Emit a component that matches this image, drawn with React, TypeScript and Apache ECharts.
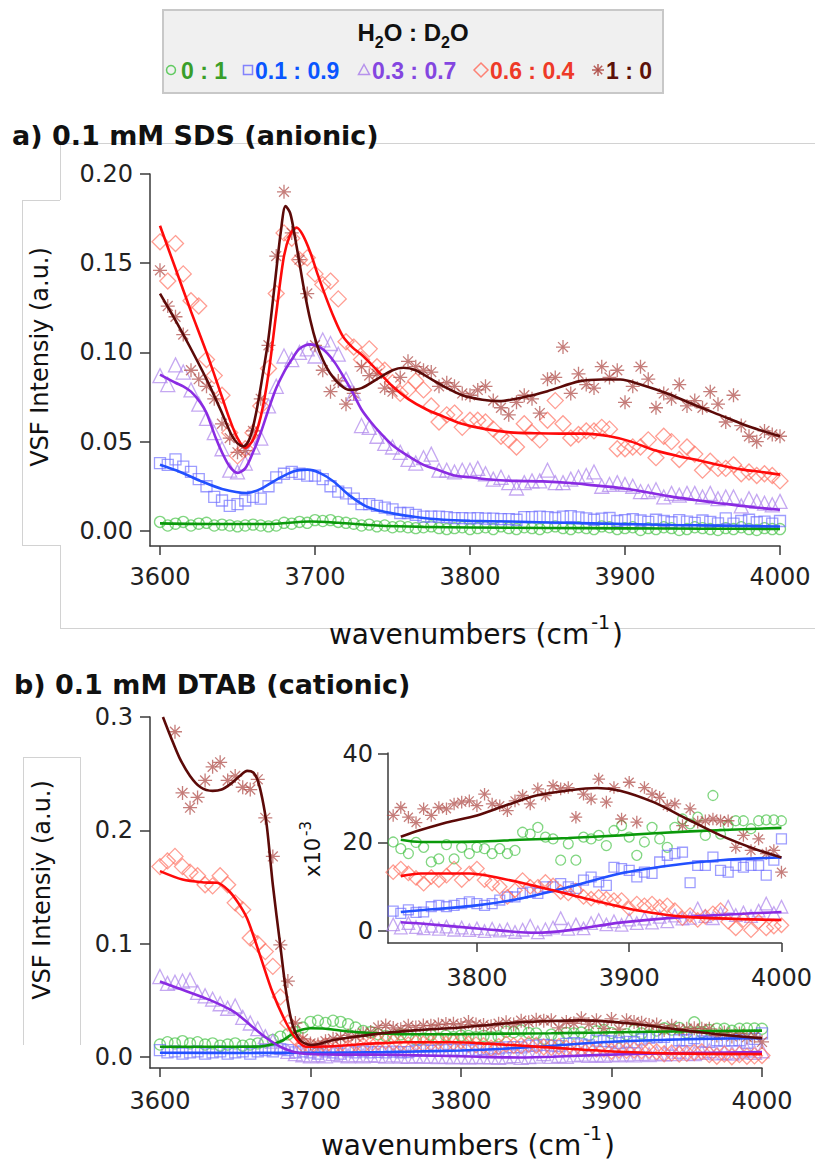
import React, { useEffect, useRef } from "react";
import * as echarts from "echarts";

// wavenumber grid of the measured points (cm^-1)
const X5 = [
  3600, 3605, 3610, 3615, 3620, 3625, 3630, 3635, 3640, 3645,
  3650, 3655, 3660, 3665, 3670, 3675, 3680, 3685, 3690, 3695,
  3700, 3705, 3710, 3715, 3720, 3725, 3730, 3735, 3740, 3745,
  3750, 3755, 3760, 3765, 3770, 3775, 3780, 3785, 3790, 3795,
  3800, 3805, 3810, 3815, 3820, 3825, 3830, 3835, 3840, 3845,
  3850, 3855, 3860, 3865, 3870, 3875, 3880, 3885, 3890, 3895,
  3900, 3905, 3910, 3915, 3920, 3925, 3930, 3935, 3940, 3945,
  3950, 3955, 3960, 3965, 3970, 3975, 3980, 3985, 3990, 3995,
  4000,
];

// ---- a) 0.1 mM SDS : measured points ----
const topGreen = [
  .005, .003, .004, .005, .003, .004, .0045, .003, .0035, .003,
  .0025, .003, .0035, .003, .0025, .003, .0045, .004, .005, .0045,
  .006, .0055, .006, .005, .0045, .004, .003, .0035, .0025, .003,
  .002, .0025, .002, .0015, .002, .0025, .0015, .001, .0015, .002,
  .001, .0015, .002, .001, .0025, .0015, .001, .002, .0015, .001,
  .002, .0025, .0015, .001, .002, .0015, .001, .0025, .002, .001,
  .0015, .002, .0005, .0015, .001, .002, .0015, .0005, .001, .002,
  .0015, .001, .0005, .0015, .001, .002, .001, .0005, .0015, .001,
  .001,
];
const topBlue = [
  .038, .037, .040, .036, .033, .029, .025, .019, .017, .014,
  .015, .017, .019, .018, .025, .030, .032, .033, .032, .031,
  .031, .029, .025, .022, .021, .018, .015, .015, .014, .013,
  .012, .010, .010, .009, .008, .008, .008, .0077, .0071, .0071,
  .007, .0071, .0068, .0068, .0066, .0066, .0062, .0077, .0077, .008,
  .0077, .0072, .008, .0083, .0075, .007, .0062, .0068, .0072, .0055,
  .006, .0066, .0058, .005, .0062, .0055, .0048, .006, .0052, .0045,
  .0058, .005, .0042, .007, .004, .0055, .0062, .0048, .0052, .004,
  .0055,
];
const topPurple = [
  .087, .082, .093, .089, .079, .071, .063, .055, .046, .034,
  .033, .038, .047, .052, .070, .081, .098, .096, .100, .102,
  .098, .107, .105, .099, .085, .077, .059, .058, .053, .049,
  .047, .044, .040, .038, .041, .043, .034, .034, .033, .034,
  .034, .035, .032, .029, .030, .027, .024, .027, .028, .028,
  .034, .027, .027, .029, .030, .031, .033, .025, .026, .027,
  .026, .025, .022, .022, .023, .019, .021, .020, .021, .021,
  .019, .021, .018, .019, .019, .014, .018, .0165, .0155, .0146,
  .0165,
];
const topRed = [
  .162, .140, .161, .144, .129, .126, .096, .087, .076, .055,
  .042, .046, .055, .070, .091, .133, .167, .164, .152, .153,
  .144, .138, .140, .130, .106, .103, .096, .102, .092, .090,
  .083, .077, .079, .084, .079, .070, .061, .065, .066, .058,
  .062, .062, .061, .057, .053, .051, .047, .060, .055, .051,
  .062, .073, .060, .052, .054, .056, .056, .058, .057, .046,
  .046, .047, .047, .051, .041, .053, .050, .040, .047, .043,
  .034, .039, .035, .035, .037, .032, .033, .031, .032, .031,
  .028,
];
const topBrown = [
  .146, .126, .120, .110, .090, .085, .081, .074, .060, .052,
  .044, .045, .056, .074, .104, .154, .190, .167, .152, .133,
  .104, .090, .078, .084, .071, .077, .092, .087, .088, .080,
  .078, .086, .095, .092, .090, .089, .081, .083, .081, .077,
  .076, .079, .081, .073, .069, .065, .072, .076, .074, .066,
  .085, .086, .103, .077, .088, .082, .080, .092, .086, .090,
  .072, .081, .092, .085, .069, .077, .074, .082, .070, .073,
  .069, .078, .071, .061, .076, .059, .053, .050, .056, .054,
  .053,
];

// ---- a) fitted curves [wavenumber, intensity] ----
const topFitGreen = [[3600, .0042], [3640, .0038], [3670, .0038], [3697, .0052], [3715, .0045], [3740, .0030], [3770, .0022], [3800, .0019], [3850, .0016], [3900, .0014], [3950, .0012], [4000, .0011]];
const topFitBlue = [[3600, .037], [3613, .033], [3626, .028], [3640, .0235], [3656, .0212], [3665, .0235], [3675, .0286], [3686, .0333], [3695, .0343], [3703, .0325], [3712, .0277], [3722, .020], [3733, .0137], [3742, .0112], [3750, .0098], [3765, .0078], [3783, .0062], [3800, .0056], [3826, .0052], [3850, .0047], [3871, .0043], [3900, .0038], [3930, .0033], [3960, .0029], [4000, .0024]];
const topFitPurple = [[3600, .0876], [3610, .083], [3615, .081], [3620, .078], [3626, .072], [3630, .066], [3636, .052], [3640, .044], [3645, .036], [3650, .0325], [3655, .035], [3660, .044], [3665, .055], [3670, .068], [3675, .080], [3680, .089], [3685, .096], [3690, .102], [3697, .1045], [3703, .103], [3708, .0995], [3713, .094], [3718, .087], [3724, .078], [3730, .068], [3736, .061], [3742, .055], [3750, .048], [3760, .042], [3770, .037], [3780, .034], [3790, .031], [3800, .030], [3815, .0286], [3830, .028], [3847, .0277], [3865, .0268], [3880, .0255], [3897, .024], [3913, .0218], [3929, .0193], [3945, .0173], [3961, .0155], [3980, .0135], [4000, .0118]];
const topFitRed = [[3600, .171], [3610, .147], [3620, .123], [3630, .100], [3640, .075], [3645, .0624], [3650, .052], [3655, .0465], [3660, .051], [3665, .064], [3670, .088], [3675, .122], [3680, .154], [3684, .166], [3688, .170], [3692, .166], [3697, .156], [3702, .143], [3707, .131], [3712, .120], [3718, .109], [3724, .103], [3731, .098], [3740, .090], [3750, .081], [3760, .074], [3772, .068], [3783, .064], [3793, .0605], [3810, .057], [3826, .0552], [3842, .0547], [3858, .0545], [3874, .0545], [3890, .053], [3904, .050], [3918, .0455], [3934, .042], [3950, .039], [3963, .0365], [3976, .0343], [3988, .033], [4000, .0315]];
const topFitBrown = [[3600, .133], [3610, .118], [3619, .1036], [3630, .085], [3640, .066], [3646, .054], [3650, .049], [3654, .0474], [3658, .052], [3662, .066], [3666, .086], [3670, .108], [3674, .138], [3678, .168], [3681, .182], [3684, .178], [3687, .165], [3690, .150], [3693, .135], [3697, .118], [3701, .105], [3705, .096], [3710, .088], [3716, .082], [3722, .079], [3730, .080], [3740, .085], [3750, .090], [3757, .0914], [3765, .090], [3775, .085], [3783, .081], [3795, .076], [3808, .0735], [3819, .0727], [3835, .075], [3850, .0783], [3871, .0839], [3885, .0848], [3897, .0848], [3910, .082], [3929, .0764], [3945, .0705], [3961, .065], [3980, .0585], [4000, .053]];

// ---- b) 0.1 mM DTAB : measured points ----
const botGreen = [
  .011, .013, .012, .014, .012, .013, .011, .012, .010, .011,
  .012, .010, .011, .012, .013, .015, .018, .020, .022, .026,
  .031, .032, .030, .032, .031, .029, .026, .023, .022, .0201,
  .0186, .0175, .020, .0189, .0156, .0163, .0195, .0163, .0189, .0175,
  .0189, .0186, .0175, .0186, .0175, .0182, .0223, .0219, .0234, .0212,
  .0208, .016, .0197, .016, .0212, .0208, .0216, .0193, .0227, .0238,
  .0212, .0171, .0201, .0234, .0208, .0189, .0234, .0253, .0242, .0257,
  .0216, .0306, .0219, .0238, .0249, .0249, .0231, .0249, .0251, .0251,
  .0249,
];
const botBlue = [
  .006, .004, .005, .003, .004, .005, .003, .004, .005, .003,
  .004, .005, .003, .005, .006, .005, .007, .006, .004, .005,
  .004, .003, .005, .004, .003, .005, .004, .005, .004, .0045,
  .004, .0048, .0042, .0043, .0055, .0058, .0055, .0058, .0062, .0066,
  .0062, .0058, .0062, .007, .0077, .0077, .0085, .0088, .0085, .010,
  .010, .0107, .010, .0096, .0115, .0122, .0111, .0103, .0144, .0141,
  .0137, .0122, .0133, .013, .0156, .0171, .0175, .0178, .0109, .0148,
  .0148, .0167, .0137, .0133, .0148, .0144, .0148, .0148, .0126, .016,
  .0208,
];
const botPurple = [
  .071, .065, .066, .067, .068, .057, .054, .051, .047, .043,
  .045, .035, .030, .025, .018, .014, .009, .005, .003, .002,
  .001, .002, .001, .003, .002, .001, .002, .001, .002, .0015,
  .0008, .0018, .0009, .0006, .0012, .0005, .001, .0003, .0008, .0002,
  .0006, 0, .0005, .0001, .0004, -.0002, .0003, .0012, -.0003, .0004,
  .0008, .0029, .0005, .0015, .0006, .0018, .0025, .0015, .0022, .0014,
  .0026, .0018, .0028, .0019, .0032, .0022, .0035, .0028, .003, .0051,
  .0034, .0029, .004, .0055, .0036, .0042, .0034, .0046, .0062, .0041,
  .0055,
];
const botRed = [
  .168, .173, .177, .168, .163, .160, .152, .151, .160, .152,
  .136, .130, .105, .100, .093, .080, .053, .030, .017, .011,
  .009, .008, .010, .009, .011, .008, .012, .010, .011, .0133,
  .0141, .013, .012, .0107, .0122, .0115, .0125, .0141, .0115, .013,
  .0141, .0115, .0107, .010, .0077, .0092, .0115, .010, .010, .0111,
  .0103, .0088, .0085, .0092, .0077, .0073, .0077, .0073, .007, .007,
  .0051, .0062, .0058, .0062, .0055, .0058, .0047, .0029, .0036, .0025,
  .0032, .004, .0047, .0021, .0006, .0025, .0002, .0021, .0006, .001,
  .0013,
];
const botBrown = [
  null, null, .287, .233, .220, .229, .244, .256, .260, .244,
  .248, .238, .236, .245, .211, .177, .099, .067, .030, .016,
  .012, .011, .014, .016, .017, .019, .018, .021, .022, .0261,
  .0279, .0257, .0245, .0276, .0261, .0279, .0276, .0287, .0291, .0294,
  .0283, .0309, .0287, .0283, .0272, .0294, .0306, .0287, .0321, .0306,
  .0328, .0321, .0324, .0257, .0309, .0298, .0343, .0291, .0324, .0253,
  .0336, .0246, .0324, .0309, .0302, .0283, .0287, .0238, .0276, .0246,
  .0249, .0253, .0249, .0249, .0189, .0216, .0182, .0208, .0175, .0182,
  .0133,
];

// ---- b) fitted curves ----
const botFitGreen = [[3600, .0091], [3640, .0091], [3664, .0092], [3670, .0100], [3676, .0117], [3682, .0150], [3688, .0205], [3694, .0240], [3700, .0254], [3710, .0250], [3726, .0225], [3740, .0212], [3750, .0206], [3763, .0201], [3800, .0202], [3828, .0206], [3860, .0210], [3894, .0216], [3940, .0225], [4000, .0233]];
const botFitBlue = [[3600, .0037], [3660, .0036], [3700, .0038], [3750, .0043], [3763, .0047], [3800, .0058], [3828, .0073], [3861, .0100], [3894, .0130], [3927, .0148], [3960, .0160], [4000, .0166]];
const botFitPurple = [[3600, .0666], [3615, .0593], [3633, .0504], [3649, .0401], [3660, .0283], [3671, .0165], [3682, .0077], [3693, .0033], [3710, .0022], [3730, .0021], [3750, .0020], [3763, .0017], [3806, .0004], [3839, -.0004], [3861, .0002], [3894, .0019], [3938, .0032], [4000, .0043]];
const botFitRed = [[3600, .164], [3615, .1566], [3630, .1540], [3638, .1537], [3646, .1463], [3652, .1360], [3658, .1220], [3666, .0917], [3675, .0564], [3684, .0298], [3691, .0150], [3697, .0091], [3715, .0095], [3735, .0115], [3750, .0124], [3763, .0130], [3795, .0130], [3817, .0118], [3850, .0092], [3872, .0073], [3905, .0047], [3938, .0032], [4000, .0025]];
const botFitBrown = [[3602, .300], [3607, .283], [3613, .264], [3620, .248], [3627, .238], [3635, .2348], [3641, .236], [3647, .241], [3653, .248], [3658, .2525], [3662, .251], [3665, .244], [3668, .228], [3671, .204], [3675, .152], [3680, .098], [3684, .056], [3688, .029], [3693, .015], [3700, .0106], [3707, .0120], [3715, .0150], [3730, .0180], [3750, .0213], [3763, .0228], [3780, .0245], [3800, .0261], [3820, .0285], [3839, .0306], [3861, .0318], [3879, .0323], [3894, .0317], [3916, .0291], [3938, .0253], [3960, .0216], [3982, .0186], [4000, .0166]];

// ---- ticks ----
const topXTicks = [3600, 3700, 3800, 3900, 4000];
const topYTicks = [0, 0.05, 0.1, 0.15, 0.2];
const botYTicks = [0, 0.1, 0.2, 0.3];
const insetXTicks = [3800, 3900, 4000];
const insetYTicks = [0, 20, 40];

const legendLabels = ["0 : 1", "0.1 : 0.9", "0.3 : 0.7", "0.6 : 0.4", "1 : 0"];

// ---- styles ----
const STAR = "path://M5 0L5 10M0 5L10 5M1.46 1.46L8.54 8.54M1.46 8.54L8.54 1.46";
const STY = [
  { line: "#0a990a", mark: "rgba(70,195,70,0.85)", text: "#3a9e2a", symbol: "circle", size: 11 },
  { line: "#2250ff", mark: "rgba(110,110,255,0.85)", text: "#0a55ff", symbol: "rect", size: 11 },
  { line: "#8a2be2", mark: "rgba(175,135,235,0.9)", text: "#8446e0", symbol: "triangle", size: 14 },
  { line: "#ff0a0a", mark: "rgba(255,110,95,0.85)", text: "#ee3a28", symbol: "diamond", size: 16 },
  { line: "#5c0a08", mark: "rgba(175,75,70,0.9)", text: "#5c120a", symbol: STAR, size: 14 },
];
const FONT = "DejaVu Sans";
const AXC = "#3a3a3a";
const TICK_FS = 24;

const toPts = (ys: (number | null)[]) =>
  X5.map((x, i) => [x, ys[i]]).filter((p) => p[1] !== null) as number[][];
const insetPts = (ys: (number | null)[]) =>
  toPts(ys).filter((p) => p[0] >= 3745).map((p) => [p[0], p[1] * 1000]);
const insetFit = (f: number[][]) => f.filter((p) => p[0] >= 3750).map((p) => [p[0], p[1] * 1000]);

function axisX(grid: number, min: number, max: number, ticks: number[], margin: number) {
  return {
    type: "value", gridIndex: grid, min, max,
    axisLine: { show: true, onZero: false, lineStyle: { color: AXC, width: 1.5 } },
    axisTick: { show: true, length: 9, customValues: ticks, lineStyle: { color: AXC, width: 1.5 } },
    axisLabel: { customValues: ticks, margin, fontSize: TICK_FS, fontFamily: FONT, color: "#222", formatter: (v: number) => String(v) },
    splitLine: { show: false },
  };
}
function axisY(grid: number, min: number, max: number, ticks: number[], fmt: (v: number) => string, margin: number) {
  return {
    type: "value", gridIndex: grid, min, max,
    axisLine: { show: true, onZero: false, lineStyle: { color: AXC, width: 1.5 } },
    axisTick: { show: true, length: 10, customValues: ticks, lineStyle: { color: AXC, width: 1.5 } },
    axisLabel: { customValues: ticks, margin, fontSize: TICK_FS, fontFamily: FONT, color: "#222", formatter: fmt },
    splitLine: { show: false },
  };
}

function scatter(ax: number, data: number[][], k: number, scale = 1) {
  const s = STY[k];
  return {
    type: "scatter", xAxisIndex: ax, yAxisIndex: ax, data, symbol: s.symbol,
    symbolSize: s.size * scale, silent: true, z: 2,
    itemStyle: { color: "rgba(0,0,0,0)", borderColor: s.mark, borderWidth: 1.3 },
  };
}
function fit(ax: number, data: number[][], k: number) {
  return {
    type: "line", xAxisIndex: ax, yAxisIndex: ax, data, showSymbol: false, symbol: "none",
    smooth: 0.3, silent: true, z: 3, lineStyle: { color: STY[k].line, width: 2.6 },
  };
}

function legendGraphics() {
  const g: any[] = [];
  g.push({ type: "rect", shape: { x: 163, y: 10, width: 500, height: 83 }, style: { fill: "#f0f0f0", stroke: "#c8c8c8", lineWidth: 2 } });
  g.push({
    type: "text", x: 413, y: 35,
    style: {
      text: "{a|H}{s|2}{a|O : D}{s|2}{a|O}", align: "center", verticalAlign: "middle",
      rich: {
        a: { fontSize: 24, fontWeight: "bold", fontFamily: "Liberation Sans", fill: "#111", verticalAlign: "bottom", padding: [0, 0, 6, 0] },
        s: { fontSize: 16, fontWeight: "bold", fontFamily: "Liberation Sans", fill: "#111", verticalAlign: "bottom" },
      },
    },
  });
  const symX = [171, 248, 364, 481, 598];
  const txtX = [181, 255, 372, 490, 606];
  const cy = 70;
  symX.forEach((x, k) => {
    const st = { fill: "none", stroke: STY[k].mark, lineWidth: 1.5 };
    if (k === 0) g.push({ type: "circle", shape: { cx: x, cy, r: 4.5 }, style: st });
    if (k === 1) g.push({ type: "rect", shape: { x: x - 4.5, y: cy - 4.5, width: 9, height: 9 }, style: st });
    if (k === 2) g.push({ type: "polygon", shape: { points: [[x, cy - 5.5], [x + 5.5, cy + 4.5], [x - 5.5, cy + 4.5]] }, style: st });
    if (k === 3) g.push({ type: "polygon", shape: { points: [[x, cy - 7], [x + 7, cy], [x, cy + 7], [x - 7, cy]] }, style: st });
    if (k === 4) {
      const r = 6;
      [[0, -r, 0, r], [-r, 0, r, 0], [-r * 0.7, -r * 0.7, r * 0.7, r * 0.7], [-r * 0.7, r * 0.7, r * 0.7, -r * 0.7]].forEach((l) =>
        g.push({ type: "line", shape: { x1: x + l[0], y1: cy + l[1], x2: x + l[2], y2: cy + l[3] }, style: { stroke: STY[k].mark, lineWidth: 1.5 } })
      );
    }
    g.push({
      type: "text", x: txtX[k], y: cy + 1,
      style: { text: legendLabels[k], fontSize: 23, fontWeight: "bold", fontFamily: "Liberation Sans", fill: STY[k].text, align: "left", verticalAlign: "middle" },
    });
  });
  return g;
}

function frameLines() {
  const st = { stroke: "#d2d2d2", lineWidth: 1 };
  const L = (x1: number, y1: number, x2: number, y2: number) => ({ type: "line", shape: { x1, y1, x2, y2 }, style: st, z: -1 });
  return [
    L(60, 143.5, 815, 143.5), L(60.5, 143, 60.5, 200), L(22, 200.5, 60, 200.5), L(22.5, 200, 22.5, 545),
    L(22, 545.5, 60, 545.5), L(60.5, 545, 60.5, 628), L(60, 628.5, 815, 628.5),
    L(23, 757.5, 80, 757.5), L(23.5, 757, 23.5, 1045), L(80.5, 757, 80.5, 1045),
  ];
}

function textGraphics() {
  const supRich = (n: number, s: number, pad: number) => ({
    n: { fontSize: n, fontFamily: FONT, fill: "#111", verticalAlign: "bottom" },
    s: { fontSize: s, fontFamily: FONT, fill: "#111", verticalAlign: "bottom", padding: [0, 2, pad, 2] },
  });
  return [
    { type: "text", x: 12, y: 135, style: { text: "a) 0.1 mM SDS (anionic)", fontSize: 27, fontWeight: "bold", fontFamily: FONT, fill: "#111", verticalAlign: "middle" } },
    { type: "text", x: 14, y: 684, style: { text: "b) 0.1 mM DTAB (cationic)", fontSize: 27, fontWeight: "bold", fontFamily: FONT, fill: "#111", verticalAlign: "middle" } },
    { type: "text", x: 40, y: 357, rotation: Math.PI / 2, style: { text: "VSF Intensiy (a.u.)", fontSize: 24, fontFamily: FONT, fill: "#111", align: "center", verticalAlign: "middle" } },
    { type: "text", x: 42, y: 890, rotation: Math.PI / 2, style: { text: "VSF Intensiy (a.u.)", fontSize: 24, fontFamily: FONT, fill: "#111", align: "center", verticalAlign: "middle" } },
    { type: "text", x: 476, y: 648, style: { text: "{n|wavenumbers (cm}{s|-1}{n|)}", align: "center", verticalAlign: "bottom", rich: supRich(28, 19, 17) } },
    { type: "text", x: 468, y: 1159, style: { text: "{n|wavenumbers (cm}{s|-1}{n|)}", align: "center", verticalAlign: "bottom", rich: supRich(28, 19, 17) } },
    { type: "text", x: 311, y: 848, rotation: Math.PI / 2, style: { text: "{n|x10}{s|-3}", align: "center", verticalAlign: "middle", rich: supRich(21, 15, 10) } },
  ];
}

export default function App() {
  const ref = useRef<HTMLDivElement>(null);
  useEffect(() => {
    if (!ref.current) return;
    const chart = echarts.init(ref.current, undefined, { renderer: "svg" });
    const topSets = [topGreen, topBlue, topPurple, topRed, topBrown];
    const topFits = [topFitGreen, topFitBlue, topFitPurple, topFitRed, topFitBrown];
    const botSets = [botGreen, botBlue, botPurple, botRed, botBrown];
    const botFits = [botFitGreen, botFitBlue, botFitPurple, botFitRed, botFitBrown];
    const series: any[] = [];
    topSets.forEach((d, k) => series.push(scatter(0, toPts(d), k)));
    topFits.forEach((d, k) => series.push(fit(0, d, k)));
    botSets.forEach((d, k) => series.push(scatter(1, toPts(d), k)));
    botFits.forEach((d, k) => series.push(fit(1, d, k)));
    botSets.forEach((d, k) => series.push(scatter(2, insetPts(d), k, 0.9)));
    botFits.forEach((d, k) => series.push(fit(2, insetFit(d), k)));

    chart.setOption({
      animation: false,
      backgroundColor: "#ffffff",
      grid: [
        { left: 150, top: 174, width: 630, height: 372 },
        { left: 150, top: 717, width: 612, height: 351 },
        { left: 388, top: 753, width: 394, height: 190 },
      ],
      xAxis: [
        axisX(0, 3593.55, 4000, topXTicks, 19),
        axisX(1, 3593.4, 4000, topXTicks, 21),
        axisX(2, 3741.6, 4000, insetXTicks, 23),
      ],
      yAxis: [
        axisY(0, -0.0085, 0.2, topYTicks, (v) => v.toFixed(2), 17),
        axisY(1, -0.0097, 0.3, botYTicks, (v) => v.toFixed(1), 17),
        axisY(2, -2.7, 40.2, insetYTicks, (v) => String(Math.round(v)), 15),
      ],
      graphic: [...frameLines(), ...legendGraphics(), ...textGraphics()],
      series,
    });
    return () => chart.dispose();
  }, []);
  return <div ref={ref} style={{ position: "absolute", left: 0, top: 0, width: 815, height: 1162 }} />;
}
